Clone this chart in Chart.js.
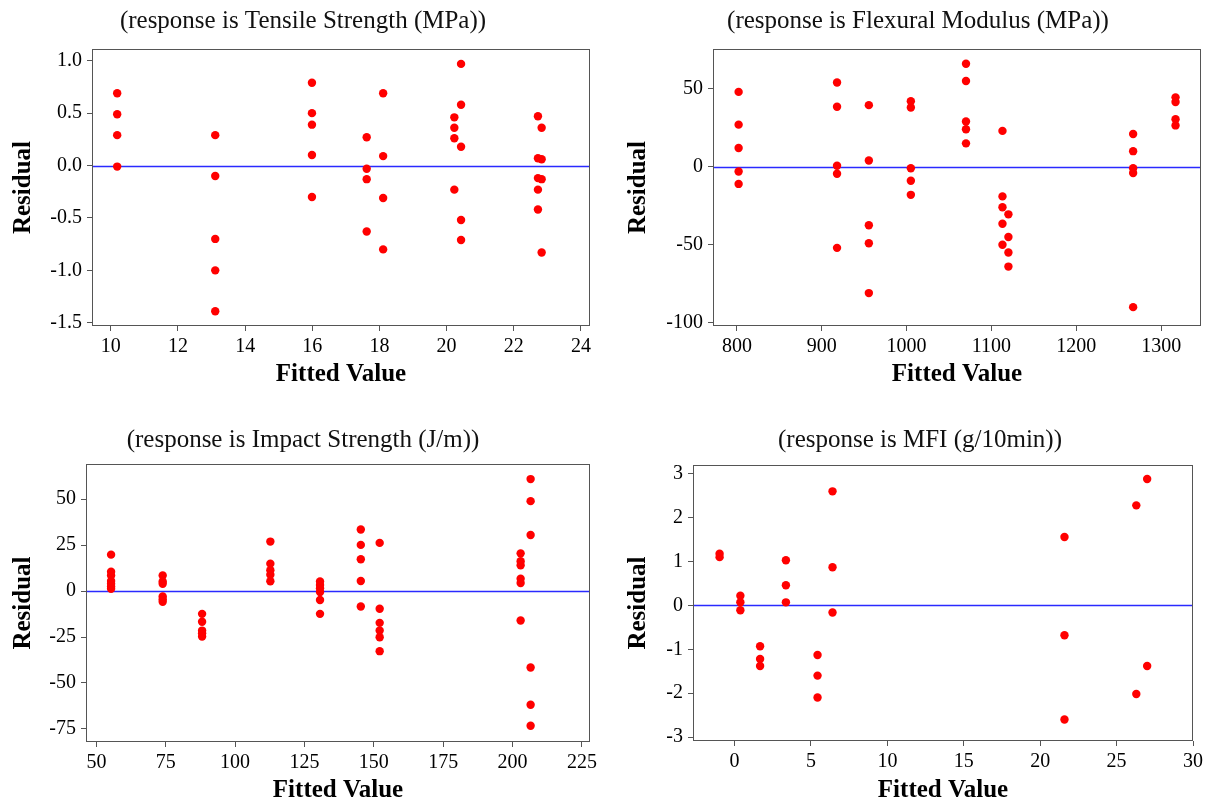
<!DOCTYPE html>
<html lang="en">
  <head>
    <meta charset="UTF-8" />
    <title>Residuals versus Fitted Values</title>
    <script src="https://cdn.jsdelivr.net/npm/chart.js"></script>
    <style>
      html, body {
        margin: 0;
        padding: 0;
        width: 1207px;
        height: 800px;
        overflow: hidden;
        background: #fff;
      }
      canvas {
        position: absolute;
      }
    </style>
  </head>
  <body>
    <canvas id="tensile" width="603" height="400" style="left:0;top:0"></canvas>
    <canvas id="flexural" width="603" height="400" style="left:604px;top:0"></canvas>
    <canvas id="impact" width="603" height="420" style="left:0;top:400px"></canvas>
    <canvas id="mfi" width="603" height="420" style="left:604px;top:400px"></canvas>

    <script>
      // Tensile Strength (MPa)
      const tensileFitted = [
        10.19, 10.19, 10.19, 10.19,
        13.11, 13.11, 13.11, 13.11, 13.11,
        15.99, 15.99, 15.99, 15.99, 15.99,
        17.62, 17.62, 17.62, 17.62,
        18.11, 18.11, 18.11, 18.11,
        20.23, 20.23, 20.23, 20.23,
        20.43, 20.43, 20.43, 20.43, 20.43,
        22.72, 22.72, 22.72, 22.72, 22.72,
        22.83, 22.83, 22.83, 22.83,
      ];
      const tensileResid = [
        0.69, 0.49, 0.29, -0.01,
        0.29, -0.1, -0.7, -1.0, -1.39,
        0.79, 0.5, 0.39, 0.1, -0.3,
        0.27, -0.03, -0.13, -0.63,
        0.69, 0.09, -0.31, -0.8,
        0.46, 0.36, 0.26, -0.23,
        0.97, 0.58, 0.18, -0.52, -0.71,
        0.47, 0.07, -0.12, -0.23, -0.42,
        0.36, 0.06, -0.13, -0.83,
      ];
      const tensileXTicks = [10, 12, 14, 16, 18, 20, 22, 24];
      const tensileYTicks = [-1.5, -1.0, -0.5, 0, 0.5, 1.0];

      // Flexural Modulus (MPa)
      const flexFitted = [
        802, 802, 802, 802, 802,
        918, 918, 918, 918, 918,
        955.5, 955.5, 955.5, 955.5, 955.5,
        1005, 1005, 1005, 1005, 1005,
        1070, 1070, 1070, 1070, 1070,
        1113, 1113, 1113, 1113, 1113,
        1120, 1120, 1120, 1120,
        1267, 1267, 1267, 1267, 1267,
        1317, 1317, 1317, 1317,
      ];
      const flexResid = [
        48, 27, 12, -3, -11,
        54, 38.5, 0.6, -4.5, -52,
        39.5, 4, -37.5, -49, -81,
        42, 38, -1, -9, -18,
        66, 55, 29, 24, 15,
        23, -19, -26, -36.5, -50,
        -30.5, -45, -55, -64,
        21, 10, -1, -4, -90,
        44.5, 41.5, 30.5, 26.5,
      ];
      const flexXTicks = [800, 900, 1000, 1100, 1200, 1300];
      const flexYTicks = [-100, -50, 0, 50];

      // Impact Strength (J/m)
      const impactFitted = [
        55.3, 55.3, 55.3, 55.3, 55.3, 55.3, 55.3,
        73.9, 73.9, 73.9, 73.9, 73.9, 73.9,
        88.1, 88.1, 88.1, 88.1, 88.1,
        112.7, 112.7, 112.7, 112.7, 112.7,
        130.6, 130.6, 130.6, 130.6, 130.6, 130.6,
        145.3, 145.3, 145.3, 145.3, 145.3,
        152.1, 152.1, 152.1, 152.1, 152.1, 152.1,
        202.9, 202.9, 202.9, 202.9, 202.9, 202.9,
        206.5, 206.5, 206.5, 206.5, 206.5, 206.5,
      ];
      const impactResid = [
        19.8, 10.5, 8.5, 5.5, 4, 2.5, 1.2,
        8.5, 5.2, 4, -3, -4.5, -5.8,
        -12.4, -16.7, -21.5, -23, -24.7,
        26.9, 14.9, 11.3, 8.9, 5.3,
        5.2, 3.3, 1.5, -0.5, -4.9, -12.4,
        33.5, 25.1, 17.3, 5.5, -8.4,
        26.2, -9.6, -17.3, -21.5, -25.1, -32.7,
        20.5, 16.2, 14, 6.7, 4.4, -16,
        60.9, 48.9, 30.5, -41.6, -61.8, -73.3,
      ];
      const impactXTicks = [50, 75, 100, 125, 150, 175, 200, 225];
      const impactYTicks = [-75, -50, -25, 0, 25, 50];

      // MFI (g/10min)
      const mfiFitted = [
        -0.98, -0.98,
        0.38, 0.38, 0.38,
        1.67, 1.67, 1.67,
        3.36, 3.36, 3.36,
        5.43, 5.43, 5.43,
        6.41, 6.41, 6.41,
        21.59, 21.59, 21.59,
        26.29, 26.29,
        27.0, 27.0,
      ];
      const mfiResid = [
        1.18, 1.1,
        0.22, 0.07, -0.11,
        -0.93, -1.22, -1.38,
        1.03, 0.46, 0.07,
        -1.13, -1.6, -2.1,
        2.6, 0.87, -0.16,
        1.56, -0.68, -2.6,
        2.28, -2.02,
        2.88, -1.38,
      ];
      const mfiXTicks = [0, 5, 10, 15, 20, 25, 30];
      const mfiYTicks = [-3, -2, -1, 0, 1, 2, 3];

      const FONT = '"Liberation Serif", "Times New Roman", serif';
      Chart.defaults.color = '#000';
      Chart.defaults.font.family = FONT;

      // frame around the plot, blue zero line and the panel heading
      const framePlugin = {
        id: 'frame',
        beforeDatasetsDraw(chart) {
          const { ctx, chartArea: a } = chart;
          const y0 = Math.round(chart.scales.y.getPixelForValue(0)) + 0.5;
          ctx.save();
          ctx.strokeStyle = '#555';
          ctx.lineWidth = 1;
          ctx.strokeRect(a.left + 0.5, a.top + 0.5, a.width - 1, a.height - 1);
          ctx.strokeStyle = '#2a2aff';
          ctx.lineWidth = 1.3;
          ctx.beginPath();
          ctx.moveTo(a.left + 1, y0);
          ctx.lineTo(a.right - 1, y0);
          ctx.stroke();
          ctx.restore();
        },
        afterDraw(chart, args, opts) {
          const ctx = chart.ctx;
          ctx.save();
          ctx.font = '25px ' + FONT;
          ctx.fillStyle = '#111';
          ctx.textAlign = 'center';
          ctx.textBaseline = 'middle';
          ctx.fillText(opts.text, opts.x, opts.y);
          ctx.restore();
        },
      };

      function makeChart(id, fitted, resid, xTicks, yTicks, cfg) {
        const points = fitted.map((x, i) => ({ x: x, y: resid[i] }));
        const tickGrid = { drawOnChartArea: false, drawTicks: true, tickLength: 5, color: '#555' };
        return new Chart(document.getElementById(id), {
          type: 'scatter',
          data: {
            datasets: [{
              data: points,
              backgroundColor: '#ff0000',
              borderWidth: 0,
              pointRadius: 4.2,
            }],
          },
          options: {
            responsive: false,
            animation: false,
            layout: { padding: { left: 0, top: cfg.top, right: cfg.right, bottom: 0 } },
            plugins: {
              legend: { display: false },
              tooltip: { enabled: false },
              frame: { text: cfg.title, x: cfg.tx, y: cfg.ty },
            },
            scales: {
              x: {
                type: 'linear',
                min: cfg.xMin,
                max: cfg.xMax,
                afterBuildTicks: (s) => { s.ticks = xTicks.map((v) => ({ value: v })); },
                afterFit: (s) => { s.height = cfg.xh; },
                grid: tickGrid,
                border: { display: false },
                ticks: {
                  font: { size: 20 },
                  padding: 4,
                  autoSkip: false,
                  maxRotation: 0,
                  callback: (v) => String(v),
                },
                title: {
                  display: true,
                  text: 'Fitted Value',
                  font: { size: 25, weight: 'bold' },
                  padding: { top: 0, bottom: cfg.xtb },
                },
              },
              y: {
                type: 'linear',
                min: cfg.yMin,
                max: cfg.yMax,
                afterBuildTicks: (s) => { s.ticks = yTicks.map((v) => ({ value: v })); },
                afterFit: (s) => { s.width = cfg.yw; },
                grid: tickGrid,
                border: { display: false },
                ticks: {
                  font: { size: 20 },
                  padding: 5,
                  autoSkip: false,
                  callback: (v) => (cfg.dec ? v.toFixed(cfg.dec) : String(v)),
                },
                title: {
                  display: true,
                  text: 'Residual',
                  font: { size: 25, weight: 'bold' },
                  padding: { top: cfg.ytp, bottom: 0 },
                },
              },
            },
          },
          plugins: [framePlugin],
        });
      }

      makeChart('tensile', tensileFitted, tensileResid, tensileXTicks, tensileYTicks, {
        title: '(response is Tensile Strength (MPa))', tx: 303, ty: 21,
        top: 49, right: 13, yw: 92, xh: 74, xtb: 10, ytp: 9, dec: 1,
        xMin: 9.44, xMax: 24.27, yMin: -1.531, yMax: 1.112,
      });

      makeChart('flexural', flexFitted, flexResid, flexXTicks, flexYTicks, {
        title: '(response is Flexural Modulus (MPa))', tx: 314, ty: 21,
        top: 49, right: 6, yw: 109, xh: 74, xtb: 10, ytp: 20, dec: 0,
        xMin: 771.8, xMax: 1347, yMin: -102.1, yMax: 75.5,
      });

      makeChart('impact', impactFitted, impactResid, impactXTicks, impactYTicks, {
        title: '(response is Impact Strength (J/m))', tx: 303, ty: 40,
        top: 64, right: 13, yw: 86, xh: 78, xtb: 14, ytp: 9, dec: 0,
        xMin: 46.26, xMax: 227.9, yMin: -82.1, yMax: 69.1,
      });

      makeChart('mfi', mfiFitted, mfiResid, mfiXTicks, mfiYTicks, {
        title: '(response is MFI (g/10min))', tx: 316, ty: 40,
        top: 65, right: 10, yw: 89, xh: 79, xtb: 14, ytp: 20, dec: 0,
        xMin: -2.72, xMax: 30, yMin: -3.09, yMax: 3.2,
      });
    </script>
  </body>
</html>
